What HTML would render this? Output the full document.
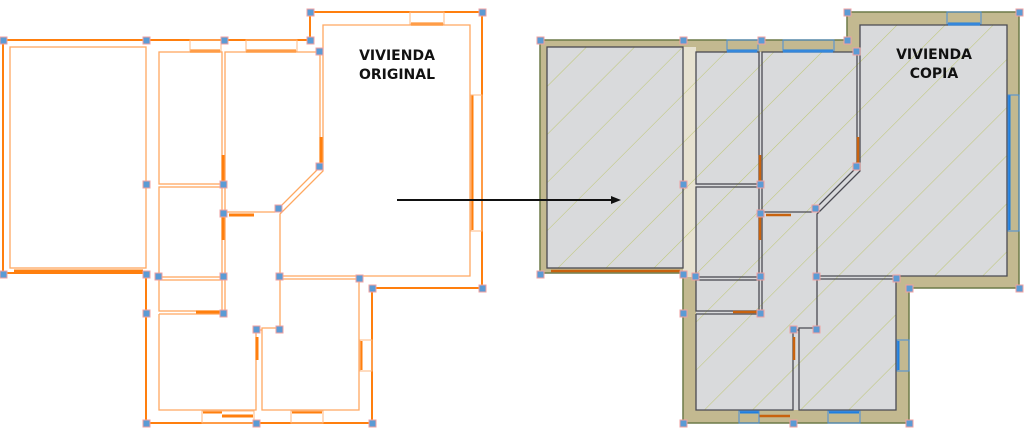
<!DOCTYPE html>
<html><head><meta charset="utf-8"><style>
html,body{margin:0;padding:0;background:#fff;width:1024px;height:430px;overflow:hidden}
svg{display:block}
text{font-family:"DejaVu Sans","Liberation Sans",sans-serif;font-weight:bold;font-size:14px;fill:#111}
</style></head><body>
<svg width="1024" height="430" viewBox="0 0 1024 430" xmlns="http://www.w3.org/2000/svg">
<defs>
<pattern id="hatch" patternUnits="userSpaceOnUse" width="34" height="34" patternTransform="rotate(45)">
<line x1="0" y1="0" x2="0" y2="34" stroke="#bfc77a" stroke-width="1.1"/>
</pattern>
<g id="rooms">
<rect x="10" y="47" width="136" height="221"/>
<rect x="159" y="52" width="63" height="132"/>
<rect x="159" y="187" width="63" height="90"/>
<rect x="159" y="280" width="63" height="31"/>
<path d="M159 314 H222 M159 314 V410 H256 V330"/>
<path d="M262 330 V410 H359 V279 H280 V328 H262 Z"/>
<path d="M225 52 H320 V167 L275 212 H225 Z"/>
<path d="M323 25 H470 V276 H280 V214 L323 171 Z"/>
<path d="M225 215 V312 M256 330 H262"/>
</g>
</defs>

<!-- LEFT PLAN -->
<g>
<path d="M3 40 H310 V12 H482 V288 H372 V423 H146 V273 H3 Z" fill="none" stroke="#ff7f0e" stroke-width="2"/>
<use href="#rooms" fill="none" stroke="#ffa860" stroke-width="1.3"/>
<g stroke="#ff7f0e" stroke-width="3" fill="none">
<line x1="190" y1="51" x2="220" y2="51"/><line x1="246" y1="51" x2="296" y2="51"/>
<line x1="411" y1="24" x2="443" y2="24"/>
<line x1="472" y1="95" x2="472" y2="230"/>
<line x1="203" y1="412" x2="222" y2="412"/><line x1="222" y1="416" x2="253" y2="416"/>
<line x1="292" y1="412" x2="322" y2="412"/>
<line x1="361" y1="341" x2="361" y2="370"/>
<line x1="321" y1="137" x2="321" y2="165"/>
<line x1="223" y1="155" x2="223" y2="182"/><line x1="223" y1="215" x2="223" y2="240"/>
<line x1="229" y1="215" x2="254" y2="215"/>
<line x1="196" y1="312" x2="222" y2="312"/>
<line x1="257" y1="337" x2="257" y2="360"/>
<line x1="14" y1="271" x2="143" y2="271"/>
</g>
<g fill="none" stroke="#ffb880" stroke-width="1">
<rect x="190" y="40" width="31" height="11"/><rect x="246" y="40" width="51" height="11"/>
<rect x="410" y="12" width="34" height="12"/><rect x="471" y="95" width="11" height="136"/>
<rect x="202" y="411" width="52" height="12"/><rect x="291" y="411" width="32" height="12"/>
<rect x="360" y="340" width="12" height="31"/>
</g>
<text x="397" y="60" text-anchor="middle">VIVIENDA</text>
<text x="397" y="79" text-anchor="middle">ORIGINAL</text>
</g>

<!-- RIGHT PLAN -->
<g transform="translate(537,0)">
<path d="M3 40 H310 V12 H482 V288 H372 V423 H146 V273 H3 Z" fill="#c3b990" stroke="#6d7a48" stroke-width="1.5"/>
<path d="M10 47 H146 L159 52 H323 V25 H470 V276 H359 V410 H159 V277 L146 268 H10 Z" fill="#d9dadc"/>
<rect x="146" y="47" width="13" height="230" fill="#e7e2d1"/>
<path d="M10 47 H146 L159 52 H323 V25 H470 V276 H359 V410 H159 V277 L146 268 H10 Z" fill="url(#hatch)"/>
<use href="#rooms" fill="none" stroke="#4a4a52" stroke-width="1.3"/>
<g stroke="#1e7fe0" stroke-width="3" fill="none">
<line x1="190" y1="51" x2="220" y2="51"/><line x1="246" y1="51" x2="296" y2="51"/>
<line x1="411" y1="24" x2="443" y2="24"/>
<line x1="472" y1="95" x2="472" y2="230"/>
<line x1="203" y1="412" x2="222" y2="412"/>
<line x1="292" y1="412" x2="322" y2="412"/>
<line x1="361" y1="341" x2="361" y2="370"/>
</g>
<g stroke="#c8620e" stroke-width="2.5" fill="none">
<line x1="222" y1="416" x2="253" y2="416"/>
<line x1="321" y1="137" x2="321" y2="165"/>
<line x1="223" y1="155" x2="223" y2="182"/><line x1="223" y1="215" x2="223" y2="240"/>
<line x1="229" y1="215" x2="254" y2="215"/>
<line x1="196" y1="312" x2="222" y2="312"/>
<line x1="257" y1="337" x2="257" y2="360"/>
<line x1="14" y1="271" x2="143" y2="271"/>
</g>
<g fill="none" stroke="#4a8fd8" stroke-width="1">
<rect x="190" y="40" width="31" height="11"/><rect x="246" y="40" width="51" height="11"/>
<rect x="410" y="12" width="34" height="12"/><rect x="471" y="95" width="11" height="136"/>
<rect x="202" y="411" width="20" height="12"/><rect x="291" y="411" width="32" height="12"/>
<rect x="360" y="340" width="12" height="31"/>
</g>
<text x="397" y="59" text-anchor="middle">VIVIENDA</text>
<text x="397" y="78" text-anchor="middle">COPIA</text>
</g>

<!-- markers -->
<g id="mk" fill="#5b9bd5" stroke="#f0a0a0" stroke-width="1">
<rect x="0" y="37" width="7" height="7"/><rect x="143" y="37" width="7" height="7"/><rect x="221" y="37" width="7" height="7"/>
<rect x="307" y="37" width="7" height="7"/><rect x="307" y="9" width="7" height="7"/><rect x="479" y="9" width="7" height="7"/>
<rect x="316" y="48" width="7" height="7"/><rect x="143" y="181" width="7" height="7"/><rect x="220" y="181" width="7" height="7"/>
<rect x="316" y="163" width="7" height="7"/><rect x="220" y="210" width="7" height="7"/><rect x="275" y="205" width="7" height="7"/>
<rect x="0" y="271" width="7" height="7"/><rect x="143" y="271" width="7" height="7"/><rect x="155" y="273" width="7" height="7"/>
<rect x="220" y="273" width="7" height="7"/><rect x="276" y="273" width="7" height="7"/><rect x="356" y="275" width="7" height="7"/>
<rect x="369" y="285" width="7" height="7"/><rect x="479" y="285" width="7" height="7"/><rect x="143" y="310" width="7" height="7"/>
<rect x="220" y="310" width="7" height="7"/><rect x="253" y="326" width="7" height="7"/><rect x="276" y="326" width="7" height="7"/>
<rect x="143" y="420" width="7" height="7"/><rect x="253" y="420" width="7" height="7"/><rect x="369" y="420" width="7" height="7"/>
</g>
<use href="#mk" transform="translate(537,0)"/>

<!-- arrow -->
<line x1="397" y1="200" x2="612" y2="200" stroke="#111" stroke-width="2"/>
<path d="M621 200 L611 196 L611 204 Z" fill="#111"/>
</svg>
</body></html>
